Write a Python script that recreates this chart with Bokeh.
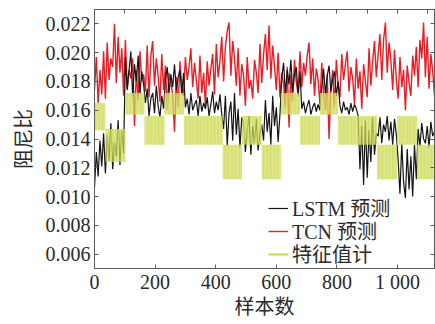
from bokeh.plotting import figure
from bokeh.models import LinearAxis, FixedTicker, Legend, LegendItem, ColumnDataSource, NumeralTickFormatter
from bokeh.embed import file_html
from bokeh.resources import INLINE

# sample index (every 6th sample)
samples = list(range(0, 1128, 6))

# LSTM prediction, units of 1e-4
lstm_e4 = [
    106, 131, 114, 139, 121, 144,
    116, 143, 125, 151, 119, 138, 128, 153, 122, 146, 130,
    197, 174, 188, 201, 169, 192, 180, 198, 171, 187, 178,
    165, 175, 156, 168, 172, 158, 177, 163, 155, 170, 161,
    181, 190, 172, 185, 176, 192, 174, 183, 188, 171, 186,
    162, 168, 157, 172, 160, 164, 167, 156, 170, 159, 165,
    161, 169, 156, 164, 173, 158, 166, 160, 171, 157,
    147, 170, 135, 158, 166, 139, 172, 143, 161, 134, 155,
    152, 131, 146, 156, 129, 149, 137, 154, 132, 144, 150,
    139, 167, 145, 158, 136, 170, 149, 162, 138, 157,
    183, 193, 171, 188, 178, 195, 173, 185, 190, 170, 187,
    161, 166, 158, 163, 167, 157, 162, 165, 159, 164, 160,
    176, 189, 171, 184, 191, 173, 182, 187, 170, 180,
    163, 158, 166, 160, 162, 157, 165, 159, 164, 161, 156,
    119, 149, 108, 153, 113, 146, 124, 155, 129, 144,
    142, 155, 137, 150, 145, 156, 139, 152, 136, 154, 143,
    126, 102, 137, 110, 99, 133, 105, 128, 100, 136, 112,
    147, 135, 151, 140, 137, 149, 134, 152, 142, 145,
]

# TCN prediction, units of 1e-4
tcn_e4 = [
    174, 197, 165, 188, 171, 201, 168, 207, 181, 196, 190,
    220,
    179, 211, 186, 203, 170, 209, 175, 188, 182, 196,
    149,
    188, 167, 201, 180, 185, 173, 205, 169, 198,
    208,
    177, 196, 184, 166, 199, 174, 191, 160, 186, 179, 171,
    145,
    183, 162, 194, 177, 170, 197, 181, 190,
    203,
    176, 193, 181, 168, 198, 172, 186, 163, 194, 177, 189, 199, 171, 206, 183, 194, 211, 180, 204, 215,
    221,
    184, 208, 196, 177, 203, 170, 192, 184, 163, 197, 175, 181, 168, 195, 186, 172, 206, 179, 199, 213, 188,
    219,
    182, 205, 191, 174, 200, 169, 186, 178, 162, 190,
    148,
    185, 166, 195, 179, 171, 201, 176, 193, 184,
    198, 207,
    178, 196, 170, 189, 181, 164, 193, 172, 160, 185,
    140,
    174, 188, 162, 195, 178, 169, 199, 181, 192,
    201,
    173, 190, 182, 164, 196, 175, 187, 161, 192, 180, 169, 203, 177, 194, 208, 183, 199, 213, 181, 209,
    221,
    186, 207, 195, 174, 202, 181, 168, 197, 176, 188, 160, 191, 179, 170, 198, 184, 204, 176, 209, 196,
    221,
    183, 211, 175, 199, 187, 170,
]

# feature value segments (value alternates between low and high inside each segment)
feat_start = [0, 36, 102, 165, 231, 295, 423, 487, 552, 615, 678, 744, 803, 932, 998, 1064]
feat_end = [36, 102, 165, 231, 295, 423, 487, 552, 615, 678, 744, 803, 932, 998, 1064, 1122]
feat_low = [0.0146, 0.0124, 0.0157, 0.0136, 0.0157, 0.0136, 0.0112, 0.0136, 0.0112, 0.0157, 0.0136, 0.0157, 0.0136, 0.0112, 0.0136, 0.0112]
feat_high = [0.0165, 0.0147, 0.0172, 0.0156, 0.0172, 0.0156, 0.0136, 0.0156, 0.0136, 0.0172, 0.0156, 0.0172, 0.0156, 0.0136, 0.0156, 0.0136]

y_ticks = [0.006, 0.008, 0.010, 0.012, 0.014, 0.016, 0.018, 0.020, 0.022]
x_ticks = [0, 200, 400, 600, 800, 1000]
x_top_ticks = [0, 100, 200, 300, 400, 500, 600, 700, 800, 900, 1000, 1100]
labels = ["LSTM 预测", "TCN 预测", "特征值计"]

lstm = [v / 1e4 for v in lstm_e4]
tcn = [v / 1e4 for v in tcn_e4]

FONT = "'Liberation Serif', 'Noto Sans CJK SC'"
TXT = "#2a2a2a"
AX = "#5a5a5a"
YEL = "#c8d644"

p = figure(width=435, height=324, output_backend="svg", toolbar_location=None,
           x_range=(0, 1122), y_range=(0.005, 0.023),
           min_border_left=94, min_border_right=1, min_border_top=9, min_border_bottom=56)
p.background_fill_color = "white"
p.border_fill_color = "white"
p.outline_line_color = AX
p.xgrid.visible = False
p.ygrid.visible = False

r_tcn = p.line(samples, tcn, line_color="#e81e26", line_width=1.4)
r_lstm = p.line(samples, lstm, line_color="#141414", line_width=1.2)
src_f = ColumnDataSource(dict(l=feat_start, r=feat_end, b=feat_low, t=feat_high))
r_feat = p.quad(left="l", right="r", bottom="b", top="t", source=src_f,
                fill_color=YEL, fill_alpha=0.75, line_color=None,
                hatch_pattern="vertical_line", hatch_color="#eef2b8", hatch_scale=3.5,
                hatch_weight=0.8, hatch_alpha=0.75)

# legend proxy: a single-point line draws nothing in the plot
r_leg_feat = p.line(feat_start[:1], feat_low[:1], line_color=YEL, line_width=2)

for ax in (p.xaxis[0], p.yaxis[0]):
    ax.axis_line_color = AX
    ax.major_tick_line_color = AX
    ax.major_tick_in = 4
    ax.major_tick_out = 0
    ax.minor_tick_in = 0
    ax.minor_tick_out = 0
    ax.minor_tick_line_color = None
    ax.major_label_text_font = FONT
    ax.major_label_text_font_size = "20px"
    ax.major_label_text_color = TXT
    ax.axis_label_text_font = FONT
    ax.axis_label_text_font_size = "20px"
    ax.axis_label_text_font_style = "normal"
    ax.axis_label_text_color = TXT

p.xaxis.ticker = FixedTicker(ticks=x_ticks)
p.xaxis.major_label_overrides = {1000: "1 000"}
p.xaxis.axis_label = "样本数"
p.xaxis.major_label_standoff = 2
p.xaxis.axis_label_standoff = 0
p.yaxis.ticker = FixedTicker(ticks=y_ticks)
p.yaxis.formatter = NumeralTickFormatter(format="0.000")
p.yaxis.axis_label = "阻尼比"
p.yaxis.major_label_standoff = 4
p.yaxis.axis_label_standoff = 8

hidden = dict(major_tick_in=4, major_tick_out=0, minor_tick_in=0, minor_tick_out=0,
              minor_tick_line_color=None, axis_line_color=AX, major_tick_line_color=AX,
              major_label_text_font_size="0px", major_label_standoff=0, axis_label_standoff=0)
top = LinearAxis(ticker=FixedTicker(ticks=x_top_ticks), **hidden)
right = LinearAxis(ticker=FixedTicker(ticks=y_ticks), **hidden)
p.add_layout(top, "above")
p.add_layout(right, "right")

# one legend per entry so the row pitch can match the reference
legend_rows = [(labels[0], r_lstm, 46), (labels[1], r_tcn, 23), (labels[2], r_leg_feat, 0)]
for lab, rend, yoff in legend_rows:
    lg = Legend(items=[LegendItem(label=lab, renderers=[rend])],
                location=(174, yoff), orientation="vertical",
                glyph_width=20, glyph_height=20, label_height=20, label_standoff=4,
                spacing=0, padding=0, margin=0,
                border_line_color=None, background_fill_alpha=0,
                label_text_font=FONT, label_text_font_size="20px", label_text_color=TXT)
    p.add_layout(lg, "center")

open("out.html", "w").write(file_html(p, INLINE))
